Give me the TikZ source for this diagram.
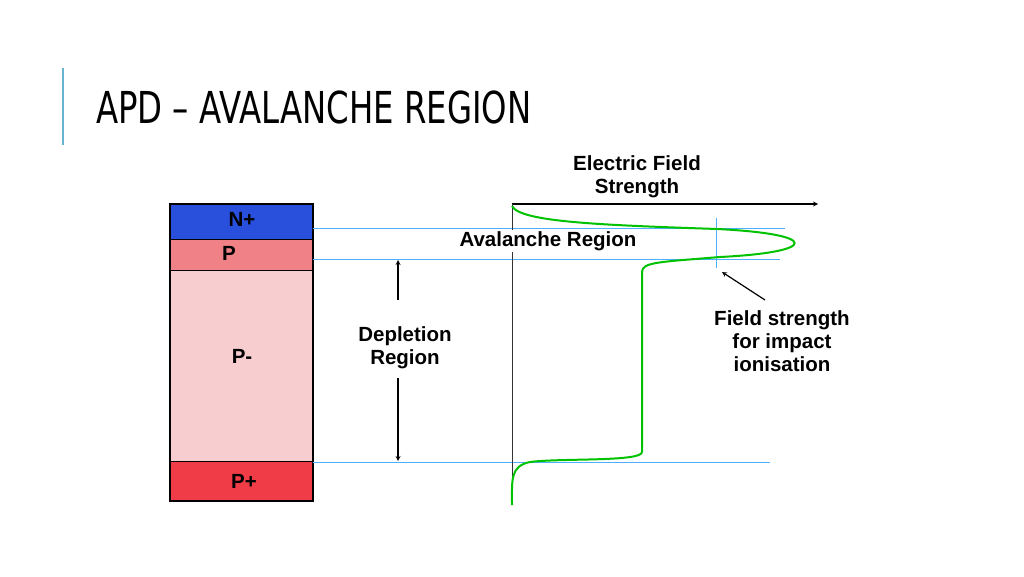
\documentclass[tikz,border=0pt]{standalone}
\usepackage{fontspec}
\setmainfont{Liberation Sans}
\newfontfamily\titlefont{DejaVu Sans}
\begin{document}
\begin{tikzpicture}[x=1pt,y=-1pt,
  lbl/.style={font=\bfseries\fontsize{20.5}{23}\selectfont,align=center,inner sep=0},
  blue line/.style={draw=blue!45!cyan!70!white,line width=0.9pt},
  layer/.style={draw=none,minimum width=143pt,inner sep=0,anchor=north west}]
\useasboundingbox (0,0) rectangle (1024,576);
\draw[cyan!50!teal!70,line width=1.2pt] (63,68) -- (63,145);
\node[anchor=west,inner sep=0,xscale=0.735,font=\titlefont\fontsize{44}{46}\selectfont] (title) at (96,107) {APD – AVALANCHE REGION};
% layers
\node[layer,fill={rgb,255:red,40;green,80;blue,220},minimum height=35pt] (n) at (170,204) {};
\node[layer,fill={rgb,255:red,240;green,130;blue,135},minimum height=31pt] (p) at (170,239) {};
\node[layer,fill={rgb,255:red,248;green,205;blue,208},minimum height=191pt] (pm) at (170,270) {};
\node[layer,fill={rgb,255:red,240;green,60;blue,70},minimum height=40pt] (pp) at (170,461) {};
\draw[line width=2pt] (170,204) rectangle (313,501);
\draw[line width=0.8pt] (170,239)--(313,239) (170,270)--(313,270) (170,461)--(313,461);
\node[lbl] at (242,219) {N+};
\node[lbl,anchor=west] at (222,253) {P};
\node[lbl] at (242,356) {P-};
\node[lbl] at (244,481) {P+};
% blue lines
\draw[blue line] (313,228)--(785,228);
\draw[blue line] (313,259)--(780,259);
\draw[blue line] (313,462)--(770,462);
\draw[blue line] (716,218)--(716,268);
% axes
\coordinate (o) at (512,204);
\coordinate (ax) at (818,204);
\coordinate (ay) at (512,505);
\draw[line width=1.2pt,-stealth] (o)--(ax);
\draw[line width=1pt,black!80] (o)--(ay);
% curve
\draw[green!70!black!80!green,line width=2pt,line join=round]
 (512,206) .. controls (520,222) and (600,225) .. (717,229)
 .. controls (820,234) and (820,252) .. (720,257)
 .. controls (660,262) and (642,262) .. (642,272)
 -- (642,452)
 .. controls (642,462) and (560,458) .. (530,462)
 .. controls (510,466) and (512,480) .. (512,505);
\node[lbl] (efs) at (637,177) {Electric Field\\Strength};
\node[lbl,fill=white,inner sep=1pt] (av) at (548,241) {Avalanche Region};
\node[lbl] (dep) at (405,348) {Depletion\\Region};
\draw[line width=1.2pt,-stealth] (398,300) -- (398,260);
\draw[line width=1.2pt,-stealth] (398,378) -- (398,461);
\node[lbl] (fs) at (782,341) {Field strength\\for impact\\ionisation};
\draw[line width=1.2pt,-stealth] (765,300) -- (722,272);
\end{tikzpicture}
\end{document}
